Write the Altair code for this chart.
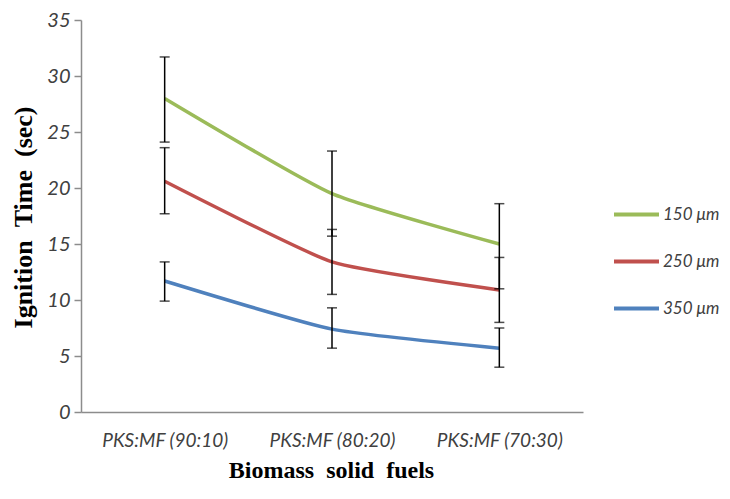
import altair as alt
import pandas as pd

categories = ["PKS:MF (90:10)", "PKS:MF (80:20)", "PKS:MF (70:30)"]
series = ["150 μm", "250 μm", "350 μm"]
colors = ["#9BBB59", "#C0504D", "#4F81BD"]

v150 = [28.0, 19.5, 15.0]
v250 = [20.6, 13.4, 10.9]
v350 = [11.7, 7.4, 5.7]

hi150 = [31.7, 23.3, 18.6]
lo150 = [24.1, 15.7, 11.0]
hi250 = [23.6, 16.3, 13.8]
lo250 = [17.7, 10.5, 8.0]
hi350 = [13.4, 9.3, 7.5]
lo350 = [9.9, 5.7, 4.0]

rows = []
for name, vals, his, los in zip(series, [v150, v250, v350], [hi150, hi250, hi350], [lo150, lo250, lo350]):
    for c, v, h, l in zip(categories, vals, his, los):
        rows.append({"fuel": c, "size": name, "value": v, "hi": h, "lo": l})
df = pd.DataFrame(rows)

LABEL_FONT = "Lato"
TITLE_FONT = "Liberation Serif"

x_enc = alt.X(
    "fuel:N",
    sort=categories,
    scale=alt.Scale(type="point", padding=0.5),
    axis=alt.Axis(
        title="Biomass\u2002solid\u2002fuels",
        titleFont=TITLE_FONT,
        titleFontSize=24,
        titleFontWeight="bold",
        titleColor="#000000",
        titleX=250,
        titleY=58,
        titleAlign="center",
        titleBaseline="middle",
        labelFont=LABEL_FONT,
        labelFontStyle="italic",
        labelFontSize=19,
        labelColor="#404040",
        labelPadding=19,
        labelAngle=0,
        ticks=False,
        domainColor="#8C8C8C",
        domainWidth=1.5,
        grid=False,
    ),
)

y_scale = alt.Scale(domain=[0, 35], nice=False, zero=True)
y_axis = alt.Axis(
    title="Ignition\u2002Time\u2002(sec)",
    titleFont=TITLE_FONT,
    titleFontSize=26,
    titleFontWeight="bold",
    titleColor="#000000",
    titleAngle=270,
    titleX=-58,
    titleY=197,
    titleAlign="center",
    titleBaseline="middle",
    values=[0, 5, 10, 15, 20, 25, 30, 35],
    labelFont=LABEL_FONT,
    labelFontStyle="italic",
    labelFontSize=20,
    labelColor="#404040",
    labelPadding=4,
    tickSize=7,
    tickColor="#8C8C8C",
    tickWidth=1.5,
    domainColor="#8C8C8C",
    domainWidth=1.5,
    grid=False,
)

color_enc = alt.Color(
    "size:N",
    scale=alt.Scale(domain=series, range=colors),
    legend=alt.Legend(
        title=None,
        orient="none",
        legendX=531,
        legendY=170,
        symbolType="stroke",
        symbolSize=2025,
        symbolStrokeWidth=4,
        labelFont=LABEL_FONT,
        labelFontStyle="italic",
        labelFontSize=17,
        labelColor="#404040",
        labelOffset=2,
        rowPadding=14,
        padding=0,
    ),
)

lines = alt.Chart(df).mark_line(strokeWidth=3.5, interpolate="cardinal", tension=0.5).encode(
    x=x_enc,
    y=alt.Y("value:Q", scale=y_scale, axis=y_axis),
    color=color_enc,
    detail="size:N",
)

bars = alt.Chart(df).mark_rule(color="#000000", strokeWidth=1.5).encode(
    x=alt.X("fuel:N", sort=categories),
    y=alt.Y("lo:Q"),
    y2="hi:Q",
)

caps_hi = alt.Chart(df).mark_tick(color="#000000", size=10, thickness=1.5, orient="horizontal").encode(
    x=alt.X("fuel:N", sort=categories),
    y=alt.Y("hi:Q"),
)
caps_lo = alt.Chart(df).mark_tick(color="#000000", size=10, thickness=1.5, orient="horizontal").encode(
    x=alt.X("fuel:N", sort=categories),
    y=alt.Y("lo:Q"),
)

chart = alt.layer(lines, bars, caps_hi, caps_lo).properties(
    width=502,
    height=392,
    autosize=alt.AutoSizeParams(type="none"),
    padding={"left": 73, "top": 12, "right": 139, "bottom": 79},
    background="#FFFFFF",
).configure_view(stroke=None)

chart.save("out.html", embed_options={"renderer": "svg", "actions": False})
